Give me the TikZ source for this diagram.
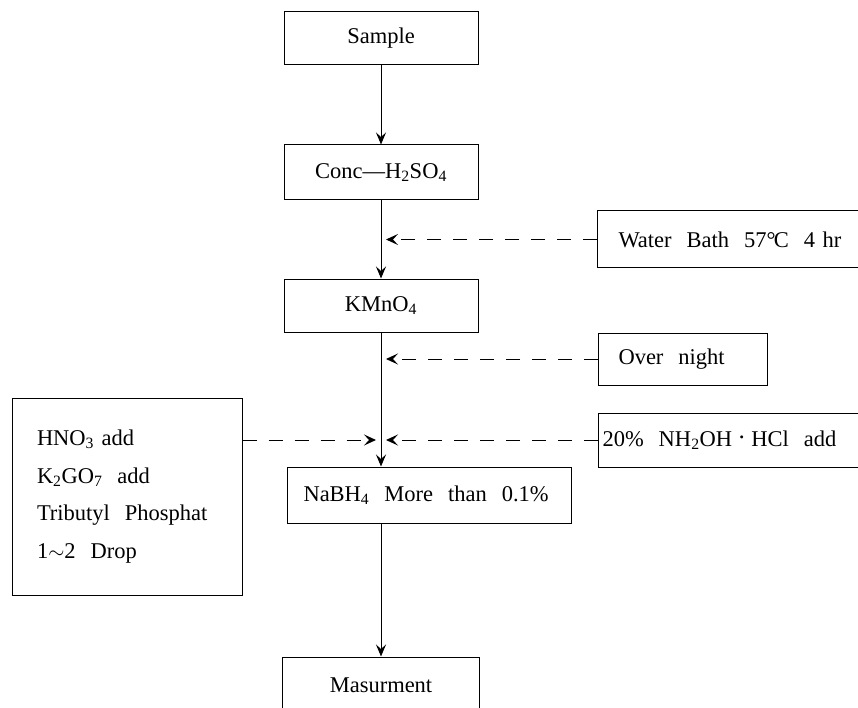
\documentclass[tikz,border=0pt]{standalone}
\usepackage{fontspec}
\usepackage{graphicx}
\setmainfont{Liberation Serif}
\usetikzlibrary{arrows.meta}
\newcommand\lo[1]{\textsubscript{#1}}
\newcommand\mdot{\raisebox{0.45ex}{\scalebox{0.55}{\textbullet}}}
\tikzset{
  box/.style={draw,line width=1pt,inner sep=0pt,font=\fontsize{22.5}{26}\selectfont},
  flow/.style={line width=1pt,-{Stealth[length=12pt,width=10pt,inset=4.5pt]}},
  dasharrow/.style={line width=1pt,dash pattern=on 14pt off 12pt,-{Stealth[length=12pt,width=11pt,inset=5pt]},shorten >=5pt}
}
\begin{document}
\begin{tikzpicture}[x=1pt,y=-1pt]
\useasboundingbox (0,0) rectangle (858,708);
% main column
\node[box,minimum width=194pt,minimum height=53pt] (sample) at (381,38.5) {Sample};
\node[box,minimum width=194pt,minimum height=55pt] (conc) at (381,172.5) {Conc---H\lo{2}SO\lo{4}};
\node[box,minimum width=194pt,minimum height=53pt] (kmno) at (381,305.5) {KMnO\lo{4}};
\node[box,anchor=west,minimum height=56pt,inner xsep=16pt,text width=252pt,align=left] (nab) at (287,495) {NaBH\lo{4}\ \ More\ \ than\ \ 0.1\%};
\node[box,minimum width=197pt,minimum height=56pt] (mas) at (381,685) {Masurment};
% right boxes
\node[box,anchor=west,minimum height=57pt,inner xsep=21pt,text width=223pt,align=left] (water) at (597,239.5) {Water\ \ Bath\ \ 57°\kern-0.08em C\ \ 4 hr};
\node[box,anchor=west,minimum height=52pt,inner xsep=20pt,text width=129pt,align=left] (night) at (598,359) {Over\ \ night};
\node[box,anchor=west,minimum height=54pt,inner xsep=4pt,text width=256pt,align=left] (twenty) at (598,440) {20\%\ \ NH\lo{2}OH\ \mdot\ HCl\ \ add};
% left box
\node[box,minimum width=230pt,minimum height=197pt,inner xsep=25pt,text width=180pt,align=left,font=\fontsize{22.5}{37.7}\selectfont] (left) at (127,496.5) {HNO\lo{3} add\\K\lo{2}GO\lo{7}\ \ add\\Tributyl\ \ Phosphat\\1$\sim$2\ \ Drop};
% flow arrows
\draw[flow] (sample.south) -- (conc.north);
\draw[flow] (conc.south) -- (kmno.north);
\draw[flow] (kmno.south) -- (kmno.south |- nab.north);
\draw[flow] (kmno.south |- nab.south) -- (mas.north);
% dashed arrows
\draw[dasharrow] (water.west) -- (water.west -| conc.south);
\draw[dasharrow] (night.west) -- (night.west -| kmno.south);
\draw[dasharrow] (twenty.west) -- (twenty.west -| kmno.south);
\draw[dasharrow] (left.east |- twenty.west) -- (twenty.west -| kmno.south);
\end{tikzpicture}
\end{document}
